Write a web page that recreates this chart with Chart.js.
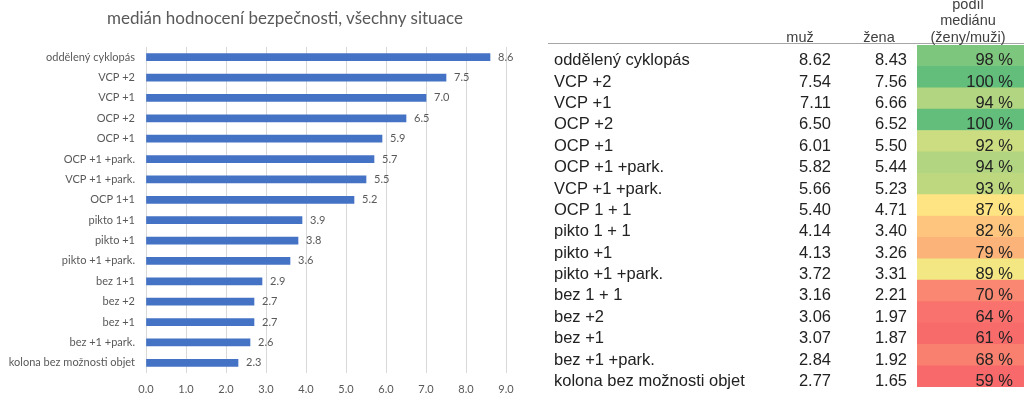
<!DOCTYPE html>
<html>
<head>
<meta charset="utf-8">
<script src="https://cdn.jsdelivr.net/npm/chart.js@4/dist/chart.umd.min.js"></script>
<style>
  html, body { margin: 0; padding: 0; background: #fff; }
  body { width: 1024px; height: 397px; position: relative; overflow: hidden; }
  #barChart { position: absolute; left: 0; top: 0; }
  #tableChart { position: absolute; left: 548px; top: 0; }
  #barTitle {
    position: absolute; left: 85px; top: 7px; width: 400px; text-align: center;
    font: 17px Lato, sans-serif; color: #595959; line-height: 22px; white-space: nowrap;
  }
</style>
</head>
<body>
<canvas id="barChart" width="548" height="397"></canvas>
<div id="barTitle">medián hodnocení bezpečnosti, všechny situace</div>
<canvas id="tableChart" width="476" height="397"></canvas>
<script>
// left chart: median safety rating, all situations
const barLabels = [
    'oddělený cyklopás', 'VCP +2', 'VCP +1', 'OCP +2', 'OCP +1', 'OCP +1 +park.',
    'VCP +1 +park.', 'OCP 1+1', 'pikto 1+1', 'pikto +1', 'pikto +1 +park.',
    'bez 1+1', 'bez +2', 'bez +1', 'bez +1 +park.', 'kolona bez možnosti objet'
];
const medianAll = [8.6, 7.5, 7.0, 6.5, 5.9, 5.7, 5.5, 5.2, 3.9, 3.8, 3.6, 2.9, 2.7, 2.7, 2.6, 2.3];
const xTickLabels = ['0.0', '1.0', '2.0', '3.0', '4.0', '5.0', '6.0', '7.0', '8.0', '9.0'];

// right table: men / women medians and their ratio
const rowLabels = [
    'oddělený cyklopás', 'VCP +2', 'VCP +1', 'OCP +2', 'OCP +1', 'OCP +1 +park.',
    'VCP +1 +park.', 'OCP 1 + 1', 'pikto 1 + 1', 'pikto +1', 'pikto +1 +park.',
    'bez 1 + 1', 'bez +2', 'bez +1', 'bez +1 +park.', 'kolona bez možnosti objet'
];
const muz = [8.62, 7.54, 7.11, 6.50, 6.01, 5.82, 5.66, 5.40, 4.14, 4.13, 3.72, 3.16, 3.06, 3.07, 2.84, 2.77];
const zena = [8.43, 7.56, 6.66, 6.52, 5.50, 5.44, 5.23, 4.71, 3.40, 3.26, 3.31, 2.21, 1.97, 1.87, 1.92, 1.65];
const ratio = [98, 100, 94, 100, 92, 94, 93, 87, 82, 79, 89, 70, 64, 61, 68, 59];

const GRAY = '#595959';
const LABEL_FONT = 'Lato';

// value labels at the end of each bar
const barValueLabels = {
    id: 'barValueLabels',
    afterDatasetsDraw(chart) {
        const ctx = chart.ctx;
        const meta = chart.getDatasetMeta(0);
        ctx.save();
        ctx.font = '11px ' + LABEL_FONT;
        ctx.fillStyle = GRAY;
        ctx.textAlign = 'left';
        ctx.textBaseline = 'middle';
        meta.data.forEach((bar, i) => {
            ctx.fillText(medianAll[i].toFixed(1), bar.x + 8, bar.y);
        });
        ctx.restore();
    }
};

new Chart(document.getElementById('barChart'), {
    type: 'bar',
    data: {
        labels: barLabels,
        datasets: [{
            data: medianAll,
            backgroundColor: '#4472C4',
            barThickness: 7
        }]
    },
    options: {
        indexAxis: 'y',
        responsive: false,
        animation: false,
        devicePixelRatio: 1,
        layout: { padding: { left: 0, right: 42, top: 47, bottom: 0 } },
        plugins: {
            legend: { display: false },
            tooltip: { enabled: false }
        },
        scales: {
            x: {
                min: 0,
                max: 9,
                ticks: {
                    stepSize: 1,
                    color: GRAY,
                    font: { family: LABEL_FONT, size: 11 },
                    padding: 10,
                    callback: (v, i) => xTickLabels[i]
                },
                grid: { color: '#d9d9d9', drawTicks: false },
                border: { display: false },
                afterFit: scale => { scale.height = 24; }
            },
            y: {
                ticks: {
                    autoSkip: false,
                    color: GRAY,
                    font: { family: LABEL_FONT, size: 11 },
                    padding: 11
                },
                grid: { display: false, drawTicks: false },
                border: { display: false },
                afterFit: scale => { scale.width = 146; }
            }
        }
    },
    plugins: [barValueLabels]
});

// 3-colour scale (red - yellow - green) for the ratio column
function ratioColor(v) {
    const stops = [[59, [248, 105, 107]], [88, [255, 235, 132]], [100, [99, 190, 123]]];
    let a = stops[0], b = stops[1], lower = true;
    if (v > stops[1][0]) { a = stops[1]; b = stops[2]; lower = false; }
    let t = Math.max(0, Math.min(1, (v - a[0]) / (b[0] - a[0])));
    if (lower) t = Math.pow(t, 1.5);
    const c = a[1].map((x, k) => Math.round(x + (b[1][k] - x) * t));
    return 'rgb(' + c.join(',') + ')';
}

const TABLE_FONT = '"Liberation Sans", Arial, sans-serif';
const TEXT_OFFSET = 5; // excel cells are bottom aligned

const tableText = {
    id: 'tableText',
    afterDraw(chart) {
        const ctx = chart.ctx;
        const y = chart.scales.y;
        ctx.save();
        // header
        ctx.strokeStyle = '#a6a6a6';
        ctx.lineWidth = 1;
        ctx.beginPath();
        ctx.moveTo(0, 43.5);
        ctx.lineTo(chart.width, 43.5);
        ctx.stroke();
        ctx.fillStyle = '#404040';
        ctx.font = '14.5px ' + TABLE_FONT;
        ctx.textAlign = 'center';
        ctx.textBaseline = 'alphabetic';
        ctx.fillText('muž', 252, 41.5);
        ctx.fillText('žena', 331, 41.5);
        ctx.fillText('podíl', 420, 8.9);
        ctx.fillText('mediánu', 420, 25.2);
        ctx.fillText('(ženy/muži)', 420, 41.5);
        // values
        ctx.fillStyle = '#222';
        ctx.font = '16.5px ' + TABLE_FONT;
        ctx.textAlign = 'right';
        ctx.textBaseline = 'middle';
        rowLabels.forEach((lab, i) => {
            const py = y.getPixelForValue(i) + TEXT_OFFSET;
            ctx.fillText(muz[i].toFixed(2), 283, py);
            ctx.fillText(zena[i].toFixed(2), 359, py);
            ctx.fillText(ratio[i] + ' %', 465, py);
        });
        ctx.restore();
    }
};

new Chart(document.getElementById('tableChart'), {
    type: 'bar',
    data: {
        labels: rowLabels,
        datasets: [{
            data: ratio.map(() => 1),
            backgroundColor: ratio.map(ratioColor),
            barPercentage: 1,
            categoryPercentage: 1,
            borderWidth: 0
        }]
    },
    options: {
        indexAxis: 'y',
        responsive: false,
        animation: false,
        devicePixelRatio: 1,
        layout: { padding: { left: 6, right: 0, top: 45, bottom: 4 } },
        plugins: {
            legend: { display: false },
            tooltip: { enabled: false }
        },
        scales: {
            x: { display: false, min: 0, max: 1 },
            y: {
                ticks: {
                    autoSkip: false,
                    color: '#222',
                    font: { family: TABLE_FONT, size: 16.5 },
                    crossAlign: 'far',
                    labelOffset: TEXT_OFFSET,
                    padding: 0
                },
                grid: { display: false, drawTicks: false },
                border: { display: false },
                afterFit: scale => { scale.width = 363; }
            }
        }
    },
    plugins: [tableText]
});
</script>
</body>
</html>
